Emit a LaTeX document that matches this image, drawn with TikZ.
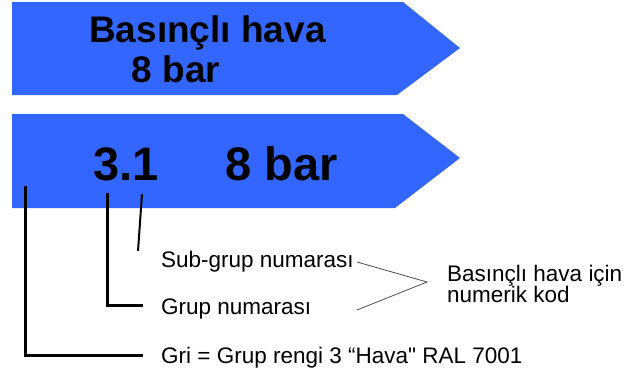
\documentclass[tikz,border=0pt]{standalone}
\usepackage{fontspec}
\setmainfont{Liberation Sans}
\definecolor{pipeblue}{RGB}{51,102,255}
\tikzset{
  pipe/.style={fill=pipeblue, draw=none},
  bigtext/.style={inner sep=0pt, anchor=base west, font=\bfseries\fontsize{37}{40}\selectfont},
  hugetext/.style={inner sep=0pt, anchor=base west, font=\bfseries\fontsize{47}{50}\selectfont},
  label/.style={inner sep=0pt, anchor=base west, font=\fontsize{22.5}{23}\selectfont},
  leader/.style={line width=3pt, line join=miter},
  thinleader/.style={line width=2pt},
  bracket/.style={line width=0.8pt, draw=black!70}
}
\begin{document}
\begin{tikzpicture}[x=1pt, y=-1pt]
  \useasboundingbox (0,0) rectangle (630,376);

  % upper pipe marker
  \fill[pipe] (12,2) -- (403,2) -- (460,48) -- (397,95) -- (12,95) -- cycle;
  \node[bigtext] (medium) at (89,42) {Basınçlı hava};
  \node[bigtext] (press1) at (131.5,82) {8 bar};

  % lower pipe marker
  \fill[pipe] (12,114) -- (403,114) -- (460,158) -- (395,208) -- (12,208) -- cycle;
  \node[hugetext] (code) at (93,180) {3.1};
  \node[hugetext] (press2) at (225,180) {8 bar};

  % explanation labels
  \node[label] (sub) at (161,267) {Sub-grup numarası};
  \node[label] (grp) at (161,314) {Grup numarası};
  \node[label] (gri) at (161,363) {Gri = Grup rengi 3 “Hava\textquotedbl{} RAL 7001};
  \node[label] (numkod) at (447,281) {Basınçlı hava için};
  \node[label] (numkod2) at (447,302) {numerik kod};

  % leader start and end points
  \coordinate (c1) at (25,186);
  \coordinate (c2) at (107,193);
  \coordinate (c3) at (142,194);
  \coordinate (e1) at (143,355);
  \coordinate (e2) at (143,305);
  \coordinate (e3) at (138,251);
  \coordinate (apex) at (427,282);
  \coordinate (b1) at (357,262);
  \coordinate (b2) at (357,310);

  \draw[leader] (c1) |- (e1);
  \draw[leader] (c2) |- (e2);
  \draw[thinleader] (c3) -- (e3);
  \draw[bracket] (b1) -- (apex) -- (b2);
\end{tikzpicture}
\end{document}
